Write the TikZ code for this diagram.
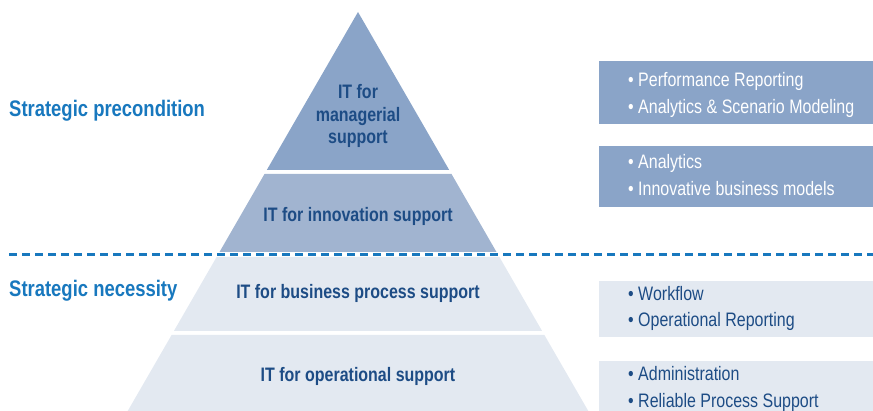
\documentclass[tikz,border=0pt]{standalone}
\usepackage{fontspec}
\setmainfont[FakeStretch=0.82]{Liberation Sans}
\definecolor{dark}{HTML}{8AA4C8}
\definecolor{mid}{HTML}{A1B4D0}
\definecolor{light}{HTML}{E3E9F1}
\definecolor{navy}{HTML}{1D4C85}
\definecolor{sblue}{HTML}{1878BE}
\tikzset{
  x=1pt, y=-1pt,
  ptext/.style={font=\fontsize{19.5}{22.5}\selectfont\bfseries, text=navy, align=center, inner sep=0pt},
  side/.style={font=\fontsize{22.5}{26}\selectfont\bfseries, text=sblue, anchor=west, inner sep=0pt},
  btext/.style={font=\fontsize{19.5}{26.5}\selectfont, align=left, anchor=west, inner sep=0pt},
}
\begin{document}
\begin{tikzpicture}
\useasboundingbox (0,0) rectangle (873,411);
% pyramid bands
\fill[dark]  (358,12) -- (449.2,170) -- (266.8,170) -- cycle;
\fill[mid]   (264.5,174) -- (451.5,174) -- (496.5,252) -- (219.5,252) -- cycle;
\fill[light] (216.6,257) -- (499.4,257) -- (542.1,331) -- (173.9,331) -- cycle;
\fill[light] (171.6,335) -- (544.4,335) -- (588.3,411) -- (127.7,411) -- cycle;
% dashed separator
\coordinate (dl) at (9,254.5);
\coordinate (dr) at (873,254.5);
\draw[sblue, line width=2.6pt, dash pattern=on 8pt off 5pt] (dl) -- (dr);
% pyramid labels
\node[ptext] (t1) at (358,116) {IT for\\managerial\\support};
\node[ptext] (t2) at (358,216) {IT for innovation support};
\node[ptext] (t3) at (358,293) {IT for business process support};
\node[ptext] (t4) at (358,376) {IT for operational support};
% side labels
\node[side] (s1) at (9,111) {Strategic precondition};
\node[side] (s2) at (9,291) {Strategic necessity};
% right boxes
\fill[dark]  (599,61) rectangle (873,124);
\fill[dark]  (599,146) rectangle (873,207);
\fill[light] (599,281) rectangle (873,337);
\fill[light] (599,361) rectangle (873,411);
\node[btext, text=white] (b1) at (628,95) {• Performance Reporting\\• Analytics \& Scenario Modeling};
\node[btext, text=white] (b2) at (628,175) {• Analytics\\• Innovative business models};
\node[btext, text=navy] (b3) at (628,308.5) {• Workflow\\• Operational Reporting};
\node[btext, text=navy] (b4) at (628,389) {• Administration\\• Reliable Process Support};
\end{tikzpicture}
\end{document}
